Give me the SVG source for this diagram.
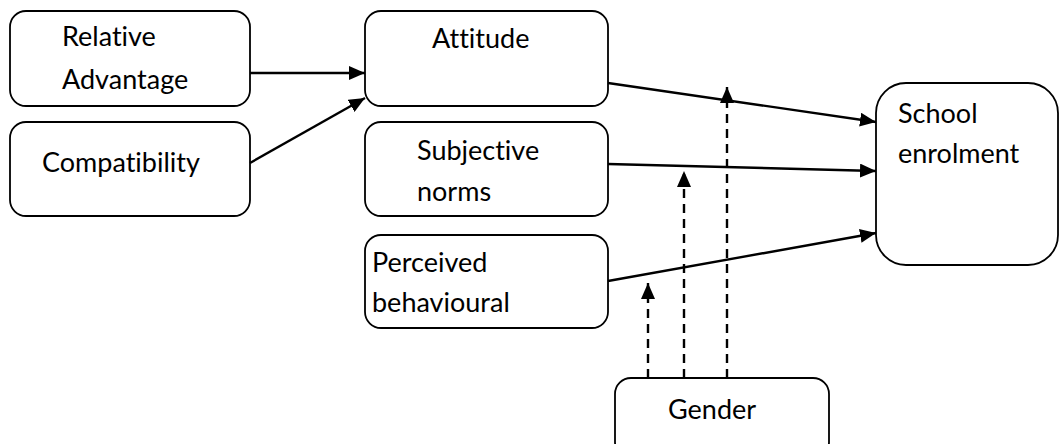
<svg xmlns="http://www.w3.org/2000/svg" width="1059" height="444" viewBox="0 0 1059 444">
<style>
.box{fill:#fff;stroke:#000;stroke-width:1.8}
.t{font-family:Lato,"Liberation Sans",sans-serif;font-size:27px;fill:#000;font-variant-ligatures:none}
.c{stroke:#000;stroke-width:2.4;fill:none}
.d{stroke:#000;stroke-width:2.4;fill:none;stroke-dasharray:9 6}
</style>
<defs>
<marker id="ah" markerUnits="userSpaceOnUse" markerWidth="17" markerHeight="14" refX="16" refY="7" orient="auto">
<path d="M0,0 L16,7 L0,14 Z" fill="#000"/>
</marker>
</defs>
<rect width="1059" height="444" fill="#fff"/>
<g id="relative-advantage"><rect class="box" x="10" y="11" width="240" height="95" rx="16"/><text class="t" x="62" y="46">Relative</text><text class="t" x="62" y="89">Advantage</text></g>
<g id="compatibility"><rect class="box" x="10" y="122" width="240" height="94" rx="16"/><text class="t" x="42" y="172">Compatibility</text></g>
<g id="attitude"><rect class="box" x="365" y="11" width="243" height="95" rx="16"/><text class="t" x="432" y="48">Attitude</text></g>
<g id="subjective-norms"><rect class="box" x="365" y="122" width="243" height="94" rx="16"/><text class="t" x="417" y="160">Subjective</text><text class="t" x="417" y="201">norms</text></g>
<g id="perceived-behavioural"><rect class="box" x="365" y="235" width="243" height="93" rx="16"/><text class="t" x="372" y="272">Perceived</text><text class="t" x="372" y="312">behavioural</text></g>
<g id="school-enrolment"><rect class="box" x="876" y="83" width="182" height="182" rx="30"/><text class="t" x="898" y="123">School</text><text class="t" x="898" y="163">enrolment</text></g>
<g id="gender"><rect class="box" x="615" y="378" width="214" height="80" rx="16"/><text class="t" x="668" y="419">Gender</text></g>
<g id="connectors">
<line class="c" x1="250" y1="73" x2="365" y2="73" marker-end="url(#ah)"/>
<line class="c" x1="250" y1="163" x2="365" y2="98" marker-end="url(#ah)"/>
<line class="c" x1="608" y1="83" x2="876" y2="122" marker-end="url(#ah)"/>
<line class="c" x1="608" y1="164" x2="876" y2="171" marker-end="url(#ah)"/>
<line class="c" x1="608" y1="281" x2="876" y2="233" marker-end="url(#ah)"/>
<line class="d" x1="648" y1="378" x2="648" y2="283" marker-end="url(#ah)"/>
<line class="d" x1="684" y1="378" x2="684" y2="171" marker-end="url(#ah)"/>
<line class="d" x1="727" y1="378" x2="727" y2="87" marker-end="url(#ah)"/>
</g>
</svg>
